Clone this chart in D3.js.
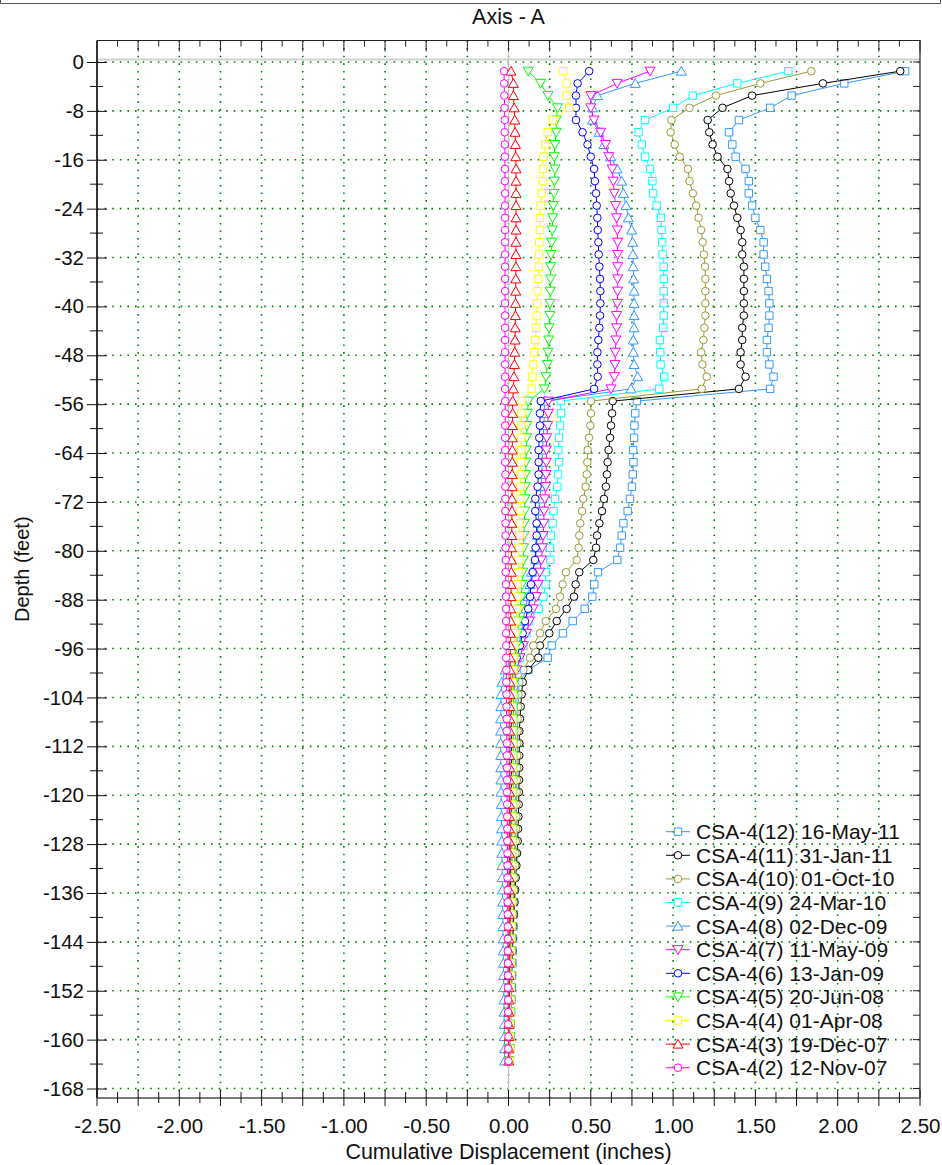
<!DOCTYPE html>
<html>
<head>
<meta charset="utf-8">
<script src="https://cdn.jsdelivr.net/npm/d3@7"></script>
<style>
  body { margin: 0; background: #fff; }
  svg { display: block; }
  text { font-family: "Liberation Sans", Arial, sans-serif; }
</style>
</head>
<body>
<svg id="chart" width="942" height="1165"></svg>
<script>
// Inclinometer reading depths (feet)
const depths = [
  -1.5,-3.5,-5.5,-7.5,-9.5,-11.5,-13.5,-15.5,-17.5,-19.5,
  -21.5,-23.5,-25.5,-27.5,-29.5,-31.5,-33.5,-35.5,-37.5,-39.5,
  -41.5,-43.5,-45.5,-47.5,-49.5,-51.5,-53.5,-55.5,-57.5,-59.5,
  -61.5,-63.5,-65.5,-67.5,-69.5,-71.5,-73.5,-75.5,-77.5,-79.5,
  -81.5,-83.5,-85.5,-87.5,-89.5,-91.5,-93.5,-95.5,-97.5,-99.5,
  -101.5,-103.5,-105.5,-107.5,-109.5,-111.5,-113.5,-115.5,-117.5,-119.5,
  -121.5,-123.5,-125.5,-127.5,-129.5,-131.5,-133.5,-135.5,-137.5,-139.5,
  -141.5,-143.5,-145.5,-147.5,-149.5,-151.5,-153.5,-155.5,-157.5,-159.5,
  -161.5,-163.5
];

// Cumulative displacement (inches) per survey, top to bottom
const csa12 = [
  2.41,2.04,1.72,1.59,1.40,1.34,1.36,1.38,1.44,1.46,
  1.46,1.48,1.50,1.53,1.55,1.55,1.56,1.57,1.58,1.585,
  1.585,1.58,1.57,1.57,1.585,1.61,1.59,0.78,0.77,0.765,
  0.763,0.757,0.759,0.755,0.75,0.738,0.724,0.698,0.688,0.678,
  0.661,0.544,0.521,0.509,0.463,0.39,0.331,0.262,0.238,0.12,
  0.06,0.046,0.045,0.045,0.044,0.044,0.043,0.043,0.042,0.042,
  0.041,0.04,0.04,0.039,0.038,0.037,0.036,0.035,0.034,0.032,
  0.03,0.028,0.026,0.024,0.022,0.02,0.018,0.016,0.014,0.012,
  0.01,0.008
];
const csa11 = [
  2.38,1.91,1.48,1.30,1.21,1.22,1.24,1.27,1.33,1.34,
  1.35,1.37,1.39,1.41,1.42,1.42,1.43,1.43,1.43,1.43,
  1.43,1.42,1.42,1.41,1.41,1.44,1.40,0.633,0.629,0.623,
  0.617,0.608,0.602,0.598,0.592,0.58,0.568,0.552,0.538,0.532,
  0.515,0.43,0.408,0.398,0.353,0.293,0.248,0.191,0.181,0.12,
  0.086,0.08,0.074,0.07,0.066,0.066,0.065,0.065,0.064,0.063,
  0.062,0.06,0.058,0.056,0.052,0.048,0.044,0.04,0.036,0.032,
  0.028,0.025,0.022,0.019,0.016,0.013,0.011,0.009,0.007,0.005,
  0.004,0.003
];
const csa10 = [
  1.84,1.53,1.26,1.10,0.99,0.985,1.01,1.04,1.09,1.10,
  1.12,1.14,1.155,1.17,1.18,1.187,1.194,1.196,1.196,1.196,
  1.196,1.19,1.184,1.17,1.178,1.204,1.174,0.501,0.501,0.497,
  0.489,0.481,0.479,0.475,0.469,0.455,0.447,0.436,0.43,0.426,
  0.414,0.349,0.329,0.313,0.289,0.226,0.191,0.151,0.131,0.09,
  0.066,0.06,0.058,0.056,0.055,0.054,0.053,0.052,0.051,0.05,
  0.049,0.048,0.046,0.044,0.042,0.04,0.037,0.034,0.031,0.028,
  0.025,0.022,0.02,0.018,0.016,0.014,0.012,0.01,0.008,0.007,
  0.006,0.005
];
const csa9 = [
  1.70,1.39,1.12,1.00,0.83,0.79,0.81,0.83,0.86,0.874,
  0.878,0.90,0.926,0.93,0.934,0.936,0.943,0.943,0.943,0.943,
  0.943,0.94,0.92,0.922,0.924,0.946,0.916,0.317,0.319,0.313,
  0.307,0.303,0.307,0.301,0.297,0.283,0.274,0.268,0.258,0.252,
  0.254,0.226,0.226,0.212,0.183,0.125,0.11,0.09,0.07,0.05,
  0.04,0.035,0.032,0.03,0.03,0.029,0.029,0.028,0.028,0.027,
  0.027,0.026,0.025,0.024,0.023,0.022,0.021,0.02,0.019,0.018,
  0.017,0.016,0.015,0.014,0.013,0.012,0.011,0.01,0.009,0.008,
  0.007,0.006
];
const csa8 = [
  1.05,0.77,0.54,0.51,0.51,0.55,0.58,0.62,0.66,0.688,
  0.698,0.714,0.728,0.748,0.754,0.756,0.758,0.76,0.763,0.763,
  0.763,0.763,0.758,0.758,0.763,0.785,0.744,0.22,0.218,0.215,
  0.21,0.207,0.205,0.203,0.2,0.19,0.185,0.18,0.175,0.17,
  0.165,0.14,0.13,0.12,0.1,0.09,0.08,0.06,0.03,-0.02,
  -0.04,-0.045,-0.047,-0.048,-0.048,-0.048,-0.047,-0.047,-0.046,-0.045,
  -0.044,-0.043,-0.042,-0.041,-0.04,-0.039,-0.038,-0.037,-0.036,-0.035,
  -0.034,-0.033,-0.032,-0.031,-0.03,-0.029,-0.028,-0.027,-0.026,-0.025,
  -0.024,-0.023
];
const csa7 = [
  0.86,0.66,0.50,0.50,0.52,0.56,0.59,0.61,0.63,0.637,
  0.643,0.651,0.657,0.661,0.663,0.663,0.663,0.663,0.663,0.661,
  0.657,0.657,0.653,0.649,0.647,0.643,0.623,0.242,0.242,0.238,
  0.232,0.23,0.23,0.228,0.226,0.22,0.216,0.214,0.21,0.206,
  0.2,0.19,0.18,0.17,0.15,0.128,0.11,0.09,0.07,0.05,
  0.035,0.03,0.028,0.026,0.025,0.025,0.024,0.024,0.023,0.023,
  0.022,0.022,0.021,0.02,0.02,0.019,0.018,0.017,0.016,0.015,
  0.014,0.013,0.012,0.011,0.01,0.009,0.008,0.007,0.006,0.005,
  0.004,0.003
];
const csa6 = [
  0.49,0.42,0.41,0.41,0.41,0.45,0.48,0.50,0.52,0.525,
  0.532,0.536,0.54,0.542,0.546,0.548,0.552,0.556,0.558,0.558,
  0.556,0.552,0.546,0.54,0.54,0.542,0.52,0.196,0.191,0.191,
  0.187,0.183,0.183,0.183,0.177,0.163,0.163,0.171,0.171,0.165,
  0.161,0.147,0.137,0.131,0.12,0.1,0.086,0.07,0.05,0.03,
  0.022,0.02,0.02,0.019,0.019,0.018,0.018,0.018,0.017,0.017,
  0.016,0.016,0.015,0.015,0.014,0.014,0.013,0.012,0.012,0.011,
  0.01,0.01,0.009,0.008,0.008,0.007,0.006,0.005,0.005,0.004,
  0.003,0.002
];
const csa5 = [
  0.12,0.195,0.24,0.298,0.29,0.29,0.282,0.278,0.283,0.279,
  0.276,0.272,0.268,0.266,0.262,0.258,0.256,0.256,0.254,0.252,
  0.252,0.246,0.244,0.24,0.236,0.228,0.218,0.12,0.115,0.112,
  0.11,0.108,0.106,0.104,0.102,0.1,0.098,0.096,0.094,0.092,
  0.09,0.086,0.082,0.078,0.07,0.062,0.055,0.048,0.04,0.035,
  0.032,0.03,0.029,0.028,0.028,0.027,0.027,0.026,0.026,0.025,
  0.025,0.024,0.023,0.022,0.021,0.02,0.019,0.018,0.017,0.016,
  0.015,0.014,0.013,0.012,0.011,0.01,0.009,0.008,0.007,0.006,
  0.005,0.004
];
const csa4 = [
  0.333,0.353,0.353,0.369,0.268,0.238,0.224,0.212,0.21,0.208,
  0.201,0.195,0.191,0.191,0.187,0.185,0.183,0.181,0.177,0.175,
  0.171,0.167,0.163,0.157,0.151,0.145,0.141,0.08,0.079,0.078,
  0.077,0.076,0.075,0.074,0.073,0.072,0.07,0.068,0.066,0.064,
  0.062,0.06,0.057,0.054,0.05,0.046,0.042,0.038,0.034,0.03,
  0.027,0.026,0.025,0.025,0.025,0.025,0.025,0.025,0.025,0.024,
  0.024,0.024,0.023,0.023,0.022,0.022,0.021,0.02,0.02,0.019,
  0.018,0.017,0.016,0.015,0.014,0.013,0.012,0.011,0.01,0.009,
  0.008,0.008
];
const csa3 = [
  0.015,0.03,0.03,0.035,0.038,0.04,0.042,0.044,0.046,0.046,
  0.046,0.046,0.046,0.046,0.045,0.045,0.045,0.044,0.044,0.043,
  0.042,0.041,0.04,0.038,0.036,0.033,0.03,0.025,0.025,0.024,
  0.024,0.023,0.023,0.022,0.022,0.021,0.021,0.02,0.02,0.019,
  0.018,0.017,0.016,0.015,0.014,0.013,0.012,0.011,0.01,0.01,
  0.009,0.009,0.009,0.008,0.008,0.008,0.008,0.008,0.007,0.007,
  0.007,0.007,0.006,0.006,0.006,0.006,0.005,0.005,0.005,0.005,
  0.004,0.004,0.004,0.004,0.003,0.003,0.003,0.003,0.002,0.002,
  0.002,0.002
];
const csa2 = [
  -0.027,-0.026,-0.025,-0.024,-0.023,-0.023,-0.022,-0.022,-0.022,-0.022,
  -0.021,-0.021,-0.021,-0.021,-0.021,-0.021,-0.021,-0.021,-0.021,-0.021,
  -0.021,-0.021,-0.021,-0.021,-0.021,-0.021,-0.021,-0.02,-0.02,-0.02,
  -0.02,-0.02,-0.02,-0.019,-0.019,-0.019,-0.019,-0.018,-0.018,-0.018,
  -0.017,-0.017,-0.016,-0.016,-0.015,-0.015,-0.015,-0.014,-0.014,-0.013,
  -0.013,-0.012,-0.012,-0.011,-0.011,-0.01,-0.01,-0.01,-0.009,-0.009,
  -0.008,-0.008,-0.007,-0.007,-0.006,-0.006,-0.006,-0.005,-0.005,-0.005,
  -0.004,-0.004,-0.004,-0.003,-0.003,-0.003,-0.002,-0.002,-0.002,-0.001,
  -0.001,0.0
];

const seriesLabels = [
  "CSA-4(12) 16-May-11", "CSA-4(11) 31-Jan-11", "CSA-4(10) 01-Oct-10",
  "CSA-4(9) 24-Mar-10", "CSA-4(8) 02-Dec-09", "CSA-4(7) 11-May-09",
  "CSA-4(6) 13-Jan-09", "CSA-4(5) 20-Jun-08", "CSA-4(4) 01-Apr-08",
  "CSA-4(3) 19-Dec-07", "CSA-4(2) 12-Nov-07"
];
const seriesValues = [csa12, csa11, csa10, csa9, csa8, csa7, csa6, csa5, csa4, csa3, csa2];
const seriesColors = ["#3399ff", "#000000", "#999933", "#00ffff", "#3399ff", "#ff00ff",
                      "#0000ff", "#00ff00", "#ffff00", "#ff0000", "#ff00ff"];
const seriesShapes = ["square", "circle", "circle", "square", "triUp", "triDown",
                      "circle", "triDown", "square", "triUp", "circle"];

const xTickValues = [-2.5, -2.0, -1.5, -1.0, -0.5, 0.0, 0.5, 1.0, 1.5, 2.0, 2.5];
const xGridValues = [-2.25, -2.0, -1.75, -1.5, -1.25, -1.0, -0.75, -0.5, -0.25, 0.0,
                     0.25, 0.5, 0.75, 1.0, 1.25, 1.5, 1.75, 2.0, 2.25];
const yTickValues = [0, -8, -16, -24, -32, -40, -48, -56, -64, -72, -80, -88, -96, -104,
                     -112, -120, -128, -136, -144, -152, -160, -168];

// ---- layout ----
const L = 97, R = 920, T = 40.5, B = 1098;
const svg = d3.select("#chart");
const x = d3.scaleLinear().domain([-2.5, 2.5]).range([L, R]);
const y = d3.scaleLinear().domain([0, -168]).range([62, 1088.5]);
const FONT = "'Liberation Sans', Arial, sans-serif";

// header strip border
svg.append("path").attr("d", "M0.5,0V3.5H940.5V0")
  .attr("fill", "none").attr("stroke", "#555").attr("stroke-width", 1);

// dotted grid
const grid = svg.append("g").attr("stroke", "#008000").attr("stroke-width", 1.6)
  .attr("stroke-dasharray", "1.6,6");
grid.selectAll("line.gx").data(xGridValues).join("line")
  .attr("x1", d => x(d)).attr("x2", d => x(d)).attr("y1", T).attr("y2", B);
grid.selectAll("line.gy").data(yTickValues).join("line")
  .attr("x1", L).attr("x2", R).attr("y1", d => y(d)).attr("y2", d => y(d));

// reference lines at zero depth / zero displacement
svg.append("line").attr("x1", L).attr("x2", R).attr("y1", y(0) - 2.5).attr("y2", y(0) - 2.5)
  .attr("stroke", "#d0d0d0").attr("stroke-width", 2);
svg.append("line").attr("x1", x(0)).attr("x2", x(0)).attr("y1", T).attr("y2", B)
  .attr("stroke", "#c4c4c4").attr("stroke-width", 1);

// marker shapes
function markerPath(shape) {
  switch (shape) {
    case "square": return "M-3.7,-3.7H3.7V3.7H-3.7Z";
    case "triUp": return "M0,-4.8L5,4H-5Z";
    case "triDown": return "M0,4.8L5,-4H-5Z";
    default: return d3.arc()({innerRadius: 0, outerRadius: 3.8, startAngle: 0, endAngle: 2 * Math.PI});
  }
}

// series, oldest drawn last so it sits on top
const line = d3.line().x(d => x(d[1])).y(d => y(d[0]));
seriesValues.forEach((vals, i) => {
  const pts = depths.map((d, k) => [d, vals[k]]);
  const g = svg.append("g");
  g.append("path").attr("d", line(pts)).attr("fill", "none")
    .attr("stroke", seriesColors[i]).attr("stroke-width", 1);
  g.selectAll("path.m").data(pts).join("path").attr("class", "m")
    .attr("transform", d => `translate(${x(d[1])},${y(d[0])})`)
    .attr("d", markerPath(seriesShapes[i]))
    .attr("fill", "#fff").attr("stroke", seriesColors[i]).attr("stroke-width", 1);
});

// frame: top and right
svg.append("path").attr("d", `M${L},${T}H${R}V${B}`).attr("fill", "none")
  .attr("stroke", "#222").attr("stroke-width", 1.2);

// top ticks (inward)
const topTicks = svg.append("g").attr("stroke", "#222").attr("stroke-width", 1);
const xMinor = d3.range(-2.5, 2.5001, 0.125);
topTicks.selectAll("line").data(xMinor).join("line")
  .attr("x1", d => x(d)).attr("x2", d => x(d))
  .attr("y1", T).attr("y2", (d, i) => T + (i % 2 === 0 ? 11 : 6));

// right ticks (inward)
const yQuarter = d3.range(0, -168.001, -4);
svg.append("g").attr("stroke", "#222").selectAll("line").data(yQuarter).join("line")
  .attr("x1", R - 7).attr("x2", R).attr("y1", d => y(d)).attr("y2", d => y(d));

// left axis
svg.append("line").attr("x1", L).attr("x2", L).attr("y1", T).attr("y2", B)
  .attr("stroke", "#333").attr("stroke-width", 2);
const axL = svg.append("g").attr("transform", `translate(${L},0)`)
  .call(d3.axisLeft(y).tickValues(yTickValues).tickFormat(d => String(d)).tickSize(10).tickPadding(3));
axL.select(".domain").remove();
axL.attr("font-size", 20.5).attr("font-family", FONT);
axL.selectAll(".tick line").attr("x1", 10).attr("stroke", "#111");
axL.selectAll(".tick text").attr("fill", "#111");
const yMinor = yQuarter.filter((d, i) => i % 2 === 1);
svg.append("g").attr("stroke", "#111").selectAll("line").data(yMinor).join("line")
  .attr("x1", L - 7).attr("x2", L + 6).attr("y1", d => y(d)).attr("y2", d => y(d));

// bottom axis
svg.append("line").attr("x1", L).attr("x2", R).attr("y1", B).attr("y2", B)
  .attr("stroke", "#7a7a7a").attr("stroke-width", 2);
svg.append("g").attr("stroke", "#111").selectAll("line").data(xMinor).join("line")
  .attr("x1", d => x(d)).attr("x2", d => x(d))
  .attr("y1", (d, i) => B - (i % 2 === 0 ? 8 : 6))
  .attr("y2", (d, i) => B + (i % 2 === 0 ? 8 : 5));
const axB = svg.append("g").attr("transform", `translate(0,${B})`)
  .call(d3.axisBottom(x).tickValues(xTickValues).tickFormat(d => d.toFixed(2)).tickSize(0).tickPadding(20));
axB.select(".domain").remove();
axB.attr("font-size", 20.5).attr("font-family", FONT);
axB.selectAll(".tick text").attr("fill", "#111");

// titles
svg.append("text").attr("x", x(0)).attr("y", 24).attr("text-anchor", "middle")
  .attr("font-size", 21.5).attr("fill", "#111").text("Axis - A");
svg.append("text").attr("x", x(0)).attr("y", 1159).attr("text-anchor", "middle")
  .attr("font-size", 21.5).attr("fill", "#111").text("Cumulative Displacement (inches)");
svg.append("text").attr("transform", `translate(29,${(T + B) / 2}) rotate(-90)`)
  .attr("text-anchor", "middle").attr("font-size", 20).attr("fill", "#111").text("Depth (feet)");

// legend
const legend = svg.append("g").attr("transform", "translate(666,831.7)");
seriesLabels.forEach((lab, i) => {
  const g = legend.append("g").attr("transform", `translate(0,${i * 23.6})`);
  g.append("line").attr("x1", 0).attr("x2", 24).attr("y1", 0).attr("y2", 0)
    .attr("stroke", seriesColors[i]).attr("stroke-width", 1);
  g.append("path").attr("transform", "translate(12,0)").attr("d", markerPath(seriesShapes[i]))
    .attr("fill", "#fff").attr("stroke", seriesColors[i]);
  g.append("text").attr("x", 30).attr("y", 0).attr("dy", "0.36em")
    .attr("font-size", 21).attr("fill", "#111").text(lab);
});
</script>
</body>
</html>
